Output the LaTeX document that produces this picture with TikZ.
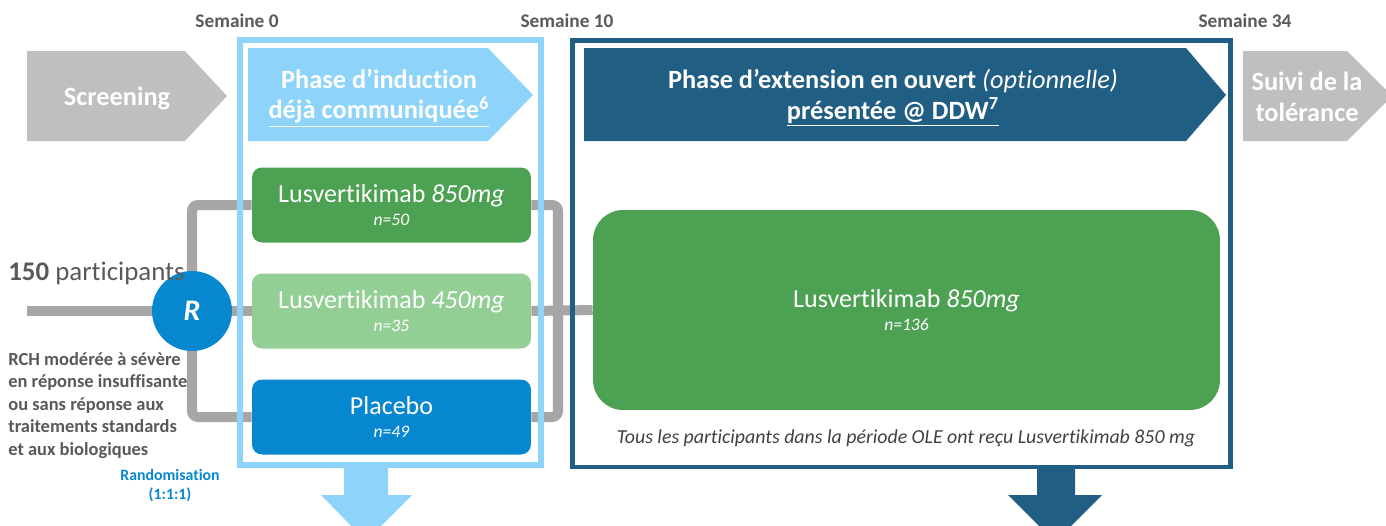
\documentclass[tikz,border=0pt]{standalone}
\usepackage{fontspec}
\setmainfont{Carlito}[Ligatures=NoCommon]
\usetikzlibrary{backgrounds}
\definecolor{chevgray}{HTML}{BFBFBF}
\definecolor{linegray}{HTML}{A6A6A6}
\definecolor{textgray}{HTML}{595959}
\definecolor{capgray}{HTML}{404040}
\definecolor{lightblue}{HTML}{8ED4FA}
\definecolor{darkblue}{HTML}{205E83}
\definecolor{armgreen}{HTML}{4DA152}
\definecolor{armlight}{HTML}{93CE95}
\definecolor{armblue}{HTML}{0787CF}
\begin{document}
\begin{tikzpicture}
        [
            x=0.02cm, y=-0.02cm,
            chevtxt/.style={text=white, align=center, font=\bfseries\fontsize{15}{17.5}\selectfont},
            arm/.style={rectangle, rounded corners=0.2cm, minimum width=5.58cm, minimum height=1.5cm, text=white, align=center, font=\fontsize{14.8}{13}\selectfont},
            conn/.style={draw=linegray, line width=5.7pt, rounded corners=0.12cm},
            weeklbl/.style={text=textgray, font=\bfseries\fontsize{11}{12}\selectfont}
        ]
        \useasboundingbox (0,0) rectangle (1386,525);
        % weeks
        \node[weeklbl] (w0) at (237,21) {Semaine 0};
        \node[weeklbl] (w10) at (567,21) {Semaine 10};
        \node[weeklbl] (w34) at (1245,21) {Semaine 34};
        % frames
        \node[draw=lightblue, line width=3.4pt, minimum width=6.02cm, minimum height=8.5cm] (indframe) at (390.5,252.5) {};
        \node[draw=darkblue, line width=2.8pt, minimum width=13.17cm, minimum height=8.54cm] (oleframe) at (901.75,253.5) {};
        \fill[lightblue] (344,467) -- (388,467) -- (388,495) -- (412,495) -- (366,541) -- (321,495) -- (344,495) -- cycle;
        \fill[darkblue] (1037,468) -- (1075,468) -- (1075,495) -- (1102,495) -- (1055,542) -- (1008,495) -- (1037,495) -- cycle;
        % Screening
        \fill[chevgray] (27,51) -- (185,51) -- (227,96) -- (185,141) -- (27,141) -- cycle;
        \node[chevtxt] (screen) at (117,98) {Screening};
        % Induction
        \fill[lightblue] (248,48) -- (488,48) -- (533,95) -- (488,141) -- (248,141) -- cycle;
        \node[chevtxt] (induct) at (379,98) {Phase d’induction\\\underline{déjà communiquée\textsuperscript{6}}};
        % OLE
        \fill[darkblue] (584,48) -- (1186,48) -- (1226,95) -- (1186,141) -- (584,141) -- cycle;
        \node[chevtxt] (ext) at (893,98) {Phase d’extension en ouvert {\mdseries\itshape (optionnelle)}\\\underline{présentée @ DDW\textsuperscript{7}}};
        % Suivi
        \fill[chevgray] (1243,51) -- (1347,51) -- (1392,96) -- (1347,141) -- (1243,141) -- cycle;
        \node[chevtxt] (suivi) at (1307,97) {Suivi de la\\tolérance};
        % arms
        \node[arm, fill=armgreen] (arm850) at (391.5,205) {Lusvertikimab \textit{850mg}\\{\fontsize{10}{13}\selectfont\itshape n=50}};
        \node[arm, fill=armlight] (arm450) at (391.5,311) {Lusvertikimab \textit{450mg}\\{\fontsize{10}{13}\selectfont\itshape n=35}};
        \node[arm, fill=armblue] (placebo) at (391.5,417) {Placebo\\{\fontsize{10}{13}\selectfont\itshape n=49}};
        \node[rectangle, rounded corners=0.6cm, minimum width=12.54cm, minimum height=4cm, fill=armgreen, text=white, align=center, font=\fontsize{14.8}{13}\selectfont] (ole) at (906.5,310) {Lusvertikimab \textit{850mg}\\{\fontsize{10}{13}\selectfont\itshape n=136}};
        \node[text=capgray, font=\itshape\fontsize{11.3}{12}\selectfont] (caption) at (906,438) {Tous les participants dans la période OLE ont reçu Lusvertikimab 850 mg};
        % R
        \node[circle, fill=armblue, minimum size=1.6cm, inner sep=0pt, text=white, font=\bfseries\itshape\fontsize{17}{18}\selectfont] (R) at (192,311) {R};
        \coordinate (start) at (27,311);
        \coordinate (jright) at (558,311);
        \begin{pgfonlayer}{background}
            \draw[conn] (start) -- (R.center) -- (arm450.west);
            \draw[conn] (arm850.west) -| (R.center) |- (placebo.west);
            \draw[conn] (arm850.east) -| (jright) |- (placebo.east);
            \draw[conn] (arm450.east) -- (ole.west);
        \end{pgfonlayer}
        % texts
        \node[anchor=west, inner sep=0pt, text=textgray, font=\fontsize{15.3}{18}\selectfont] (npart) at (8,273) {\textbf{150} participants};
        \node[anchor=north west, inner sep=0pt, align=left, text=textgray, font=\bfseries\fontsize{10.5}{12.8}\selectfont] (rch) at (8,352) {RCH modérée à sévère\\en réponse insuffisante\\ou sans réponse aux\\traitements standards\\et aux biologiques};
        \node[align=center, text=armblue, font=\bfseries\fontsize{9}{10.8}\selectfont] (rando) at (170,486) {Randomisation\\(1:1:1)};
\end{tikzpicture}
\end{document}
